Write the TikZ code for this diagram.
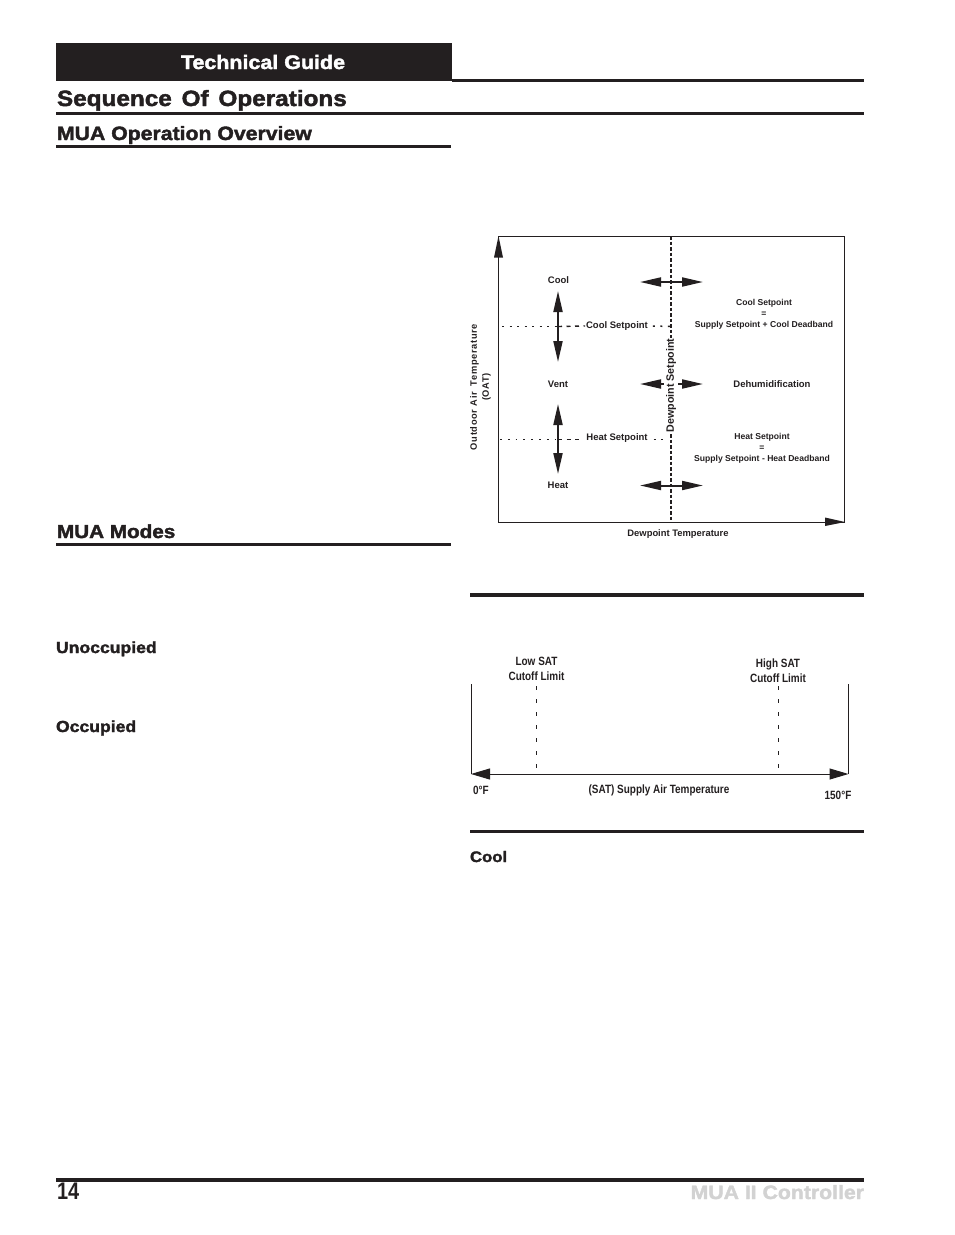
\documentclass[tikz,border=0pt]{standalone}
\usepackage{fontspec}
\setmainfont{Liberation Sans}
\newfontfamily\headfont[FakeStretch=1.1,FakeBold=2]{Liberation Sans Bold}
\newfontfamily\condfont[FakeStretch=0.83]{Liberation Sans Bold}
\newfontfamily\spacedfont[LetterSpace=7]{Liberation Sans Bold}
\usetikzlibrary{arrows.meta}
\definecolor{ink}{HTML}{231F20}
\definecolor{ghost}{HTML}{D2D2D2}
\tikzset{
  txt/.style={inner sep=0pt,outer sep=0pt,text=ink,font=\bfseries\fontsize{9.5}{11}\selectfont,align=center},
  cond/.style={inner sep=0pt,outer sep=0pt,text=ink,font=\condfont\fontsize{12}{15}\selectfont,align=center},
  head/.style={inner sep=0pt,outer sep=0pt,anchor=base west,text=ink},
  rulea/.style={ink,line width=3.5pt},
  dbl/.style={ink,line width=2pt,{Triangle[width=9pt,length=21pt]}-{Triangle[width=9pt,length=21pt]}},
  axisline/.style={ink,line width=1pt},
  dew/.style={ink,line width=2pt,dash pattern=on 3.5pt off 2pt},
  dots/.style={ink,line width=1.5pt,dash pattern=on 2pt off 5.5pt},
  shortdash/.style={ink,line width=1pt,dash pattern=on 4pt off 4.5pt},
  limit/.style={ink,line width=1.2pt,dash pattern=on 3.5pt off 9.5pt}
}
\begin{document}
\begin{tikzpicture}[x=1pt,y=-1pt]
\useasboundingbox (0,0) rectangle (954,1235);
% page furniture
\fill[ink] (56,43) rectangle (452,81);
\node[head,anchor=base,text=white,font=\headfont\fontsize{19.5}{22}\selectfont] (guide) at (263,69) {Technical Guide};
\coordinate (r1a) at (452,80); \coordinate (r1b) at (863.5,80);
\draw[ink,line width=3pt] (r1a) -- (r1b);
\node[head,font=\headfont\fontsize{22.1}{26}\selectfont] (seq) at (57,106) {Sequence\;\,Of\;\,Operations};
\coordinate (r2a) at (56,113); \coordinate (r2b) at (863.5,113);
\draw[ink,line width=3pt] (r2a) -- (r2b);
\node[head,font=\headfont\fontsize{19.3}{22}\selectfont] (ov) at (57,140) {MUA Operation Overview};
\coordinate (r3a) at (56,146.5); \coordinate (r3b) at (451,146.5);
\draw[rulea] (r3a) -- (r3b);
\node[head,font=\headfont\fontsize{18.8}{22}\selectfont] (modes) at (57,538) {MUA Modes};
\coordinate (r4a) at (56,544.5); \coordinate (r4b) at (451,544.5);
\draw[rulea] (r4a) -- (r4b);
\node[head,font=\headfont\fontsize{16}{18}\selectfont] (unocc) at (56,653) {Unoccupied};
\node[head,font=\headfont\fontsize{16}{18}\selectfont] (occ) at (56,732) {Occupied};
\node[head,font=\headfont\fontsize{15.2}{18}\selectfont] (cool) at (470,862) {Cool};
\coordinate (r5a) at (470,595); \coordinate (r5b) at (863.5,595);
\draw[rulea] (r5a) -- (r5b);
\coordinate (r6a) at (470,831); \coordinate (r6b) at (863.5,831);
\draw[ink,line width=3pt] (r6a) -- (r6b);
\coordinate (r7a) at (56,1180); \coordinate (r7b) at (863.5,1180);
\draw[rulea] (r7a) -- (r7b);
\node[head,font=\condfont\fontsize{24}{26}\selectfont] (pg) at (57,1199.5) {14};
\node[head,anchor=base east,text=ghost,font=\headfont\fontsize{19.3}{24}\selectfont] (ctl) at (864,1199) {MUA II Controller};
% upper chart
\coordinate (bl) at (498.5,522); \coordinate (tl) at (498.5,236);
\coordinate (tr) at (844,236); \coordinate (br) at (844,522);
\draw[axisline] (tl) -- (tr) -- (br) -- (bl) -- cycle;
\fill[ink] (498.5,236) -- (503,257.5) -- (494,257.5) -- cycle;
\fill[ink] (845,522) -- (825,517.5) -- (825,526) -- cycle;
\coordinate (dt) at (671,236); \coordinate (db) at (671,522);
\draw[dew] (dt) -- (db);
\node[txt,rotate=90,fill=white,inner ysep=1pt,inner xsep=1pt,font=\bfseries\fontsize{10.7}{11}\selectfont] (dsp) at (671,385.5) {Dewpoint Setpoint};
\node[txt,rotate=90,font=\spacedfont\fontsize{9.3}{12}\selectfont] (oat) at (480.5,387) {Outdoor Air\; Temperature\\(OAT)};
\node[txt,font=\bfseries\fontsize{9.4}{11}\selectfont] (dpt) at (678,534) {Dewpoint Temperature};
\node[txt] (ncool) at (558.5,280) {Cool};
\node[txt] (nvent) at (558,384) {Vent};
\node[txt] (nheat) at (558,485) {Heat};
\node[txt,fill=white,inner xsep=1pt] (csp) at (617,326) {Cool Setpoint};
\node[txt,fill=white,inner xsep=1pt] (hsp) at (617,438) {Heat Setpoint};
\coordinate (cl) at (502,326.5); \coordinate (cm) at (558,326.5); \coordinate (cr) at (671,326.5);
\coordinate (hl) at (500,439); \coordinate (hm) at (558,439); \coordinate (hr) at (667,439);
\coordinate (hw) at (583,439);
\draw[dots] (cl) -- (cm);
\draw[shortdash,line width=1.4pt] (cm) -- (csp.west);
\draw[dots] (csp.east) ++(4,0) -- (cr);
\draw[dots,line width=1pt,dash pattern=on 1.8pt off 6pt] (hl) -- (hm);
\draw[shortdash] (hm) -- (hw);
\draw[dots,line width=1pt] (hsp.east) ++(5,1) -- (hr);
\coordinate (a1t) at (558,291); \coordinate (a1b) at (558,362);
\coordinate (a2t) at (558,404); \coordinate (a2b) at (558,474);
\draw[dbl] (a1t) -- (a1b);
\draw[dbl] (a2t) -- (a2b);
\coordinate (h1l) at (640,282); \coordinate (h1r) at (703,282);
\coordinate (h2l) at (640,384); \coordinate (h2m) at (664,384); \coordinate (h2n) at (678,384); \coordinate (h2r) at (703,384);
\coordinate (h3l) at (640,485.5); \coordinate (h3r) at (703,485.5);
\draw[dbl] (h1l) -- (h1r);
\draw[dbl,{Triangle[width=9pt,length=21pt]}-] (h2l) -- (h2m);
\draw[dbl,-{Triangle[width=9pt,length=21pt]}] (h2n) -- (h2r);
\draw[dbl] (h3l) -- (h3r);
\node[txt,font=\bfseries\fontsize{8.6}{11.2}\selectfont] (cf) at (764,314.5) {Cool Setpoint\\=\\Supply Setpoint + Cool Deadband};
\node[txt] (dh) at (772,384) {Dehumidification};
\node[txt,font=\bfseries\fontsize{8.6}{11.2}\selectfont] (hf) at (762,448) {Heat Setpoint\\=\\Supply Setpoint - Heat Deadband};
% lower chart
\coordinate (l0) at (471,684); \coordinate (l1) at (471,774);
\coordinate (r0) at (848.5,684); \coordinate (r1) at (848.5,774);
\draw[axisline] (l0) -- (l1);
\draw[axisline] (r0) -- (r1);
\draw[ink,line width=1pt,{Triangle[width=11pt,length=19pt]}-{Triangle[width=11pt,length=19pt]}] (l1) -- (r1);
\coordinate (ls) at (536.5,686); \coordinate (le) at (536.5,771);
\coordinate (hs) at (778.5,686); \coordinate (he) at (778.5,771);
\draw[limit] (ls) -- (le);
\draw[limit] (hs) -- (he);
\node[cond] (low) at (536.5,669) {Low SAT\\Cutoff Limit};
\node[cond] (high) at (778,671) {High SAT\\Cutoff Limit};
\node[cond] (zero) at (481,790) {0°F};
\node[cond] (sat) at (659,790) {(SAT) Supply Air Temperature};
\node[cond] (top) at (838,795) {150°F};
\end{tikzpicture}
\end{document}
